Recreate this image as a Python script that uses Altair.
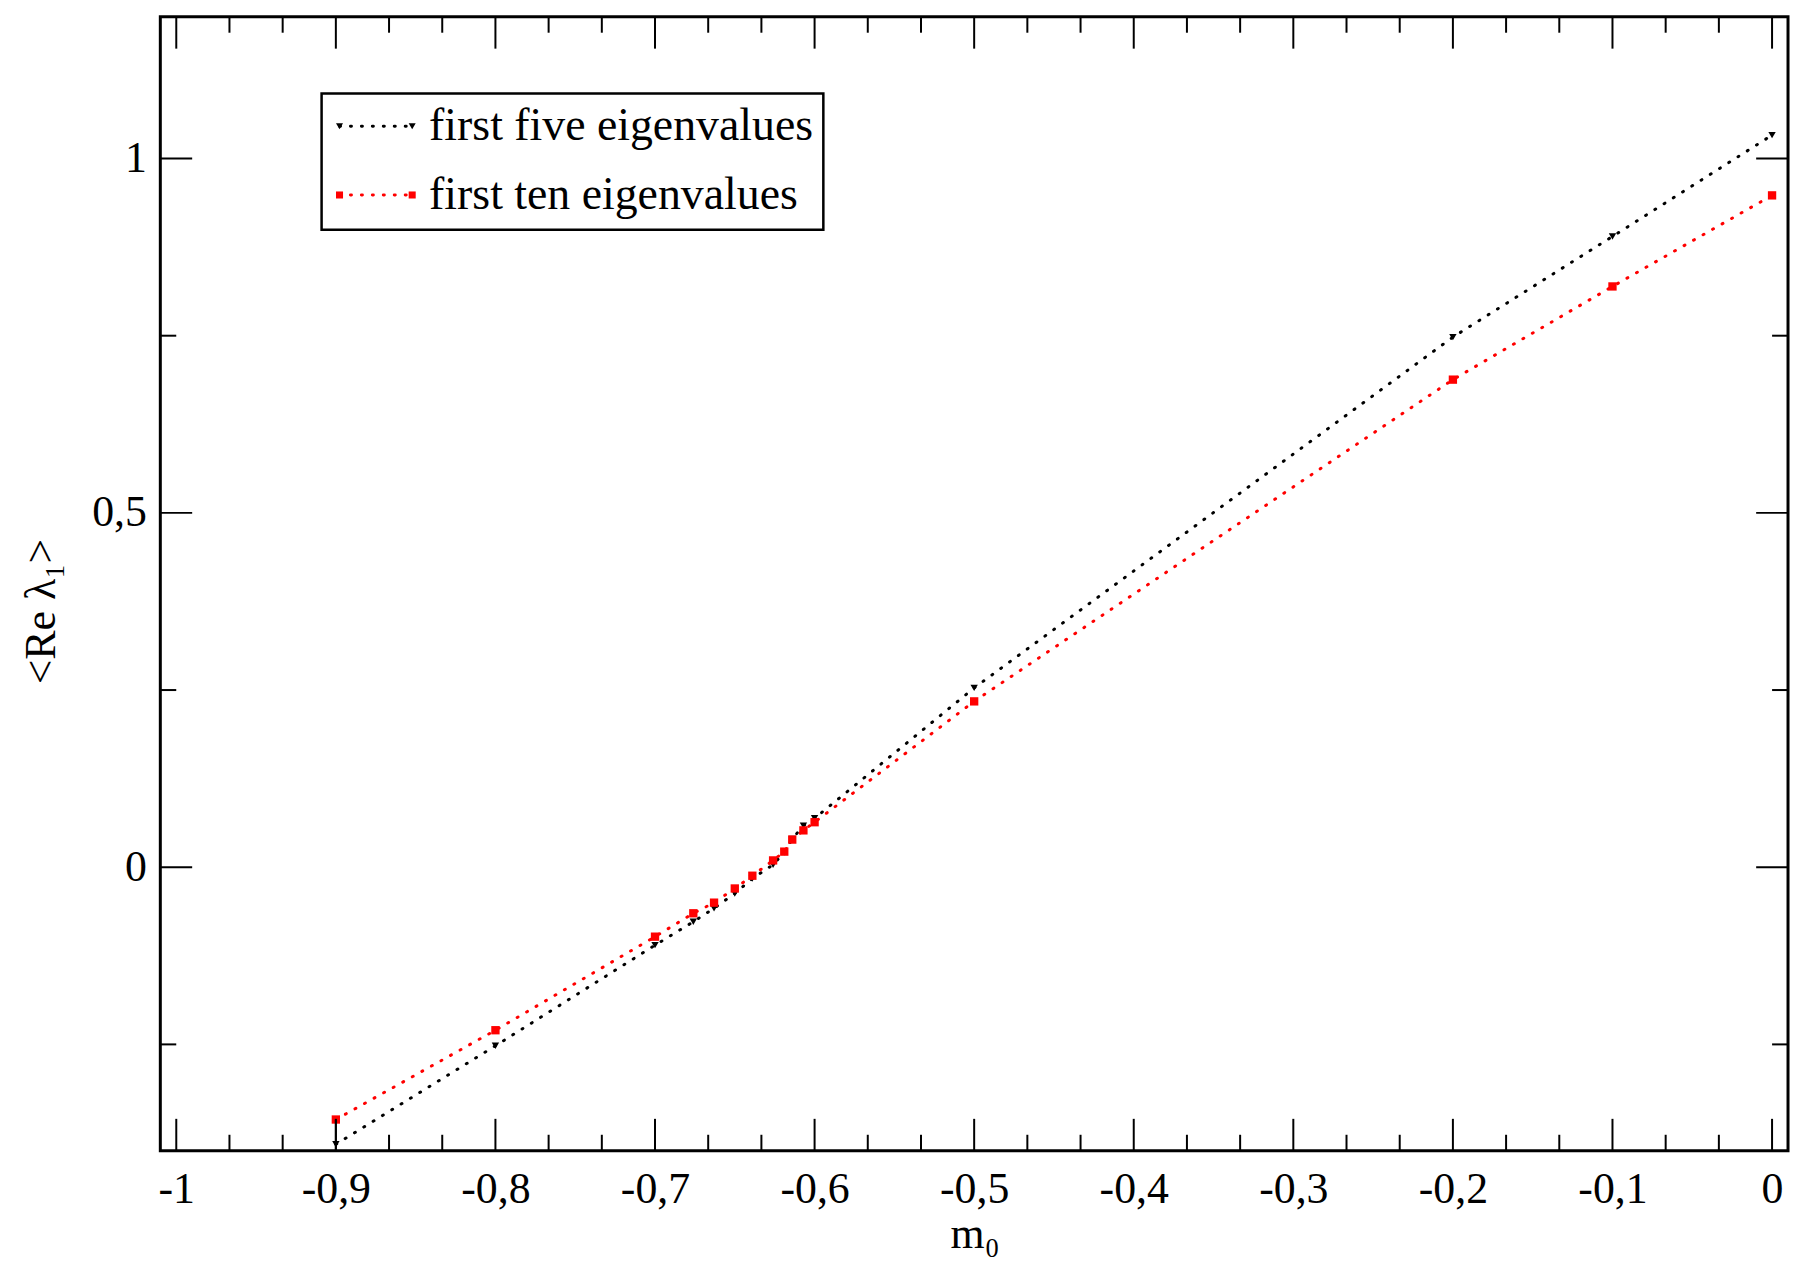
import altair as alt
import pandas as pd

# ---- data ----
m0 = [-0.9, -0.8, -0.7, -0.676, -0.663, -0.65, -0.639, -0.626, -0.619,
      -0.614, -0.607, -0.6, -0.5, -0.2, -0.1, 0.0]
first_five = [-0.391, -0.252, -0.110, -0.077, -0.058, -0.037, -0.016, 0.0035,
              0.021, 0.040, 0.0587, 0.069, 0.253, 0.748, 0.890, 1.033]
first_ten = [-0.356, -0.230, -0.098, -0.065, -0.050, -0.030, -0.012, 0.0096,
             0.022, 0.039, 0.052, 0.0635, 0.234, 0.688, 0.8195, 0.948]
series_names = ["first five eigenvalues", "first ten eigenvalues"]
series_colors = ["#000000", "#ff0000"]
series_shapes = ["triangle-down", "square"]

err_x = [-0.9]
err_lo = [-0.426]
err_hi = [-0.356]

x_major = [-1, -0.9, -0.8, -0.7, -0.6, -0.5, -0.4, -0.3, -0.2, -0.1, 0]
x_minor = [round(-1 + k / 30, 5) for k in range(31) if k % 3 != 0]
y_major = [0, 0.5, 1]
y_minor = [-0.25, 0.25, 0.75]

# ---- layout ----
W, H = 1635, 1139
MAJ, MIN = 32, 16
FONT = "Liberation Serif"

df = pd.concat([
    pd.DataFrame({"m0": m0, "val": first_five, "series": series_names[0]}),
    pd.DataFrame({"m0": m0, "val": first_ten, "series": series_names[1]}),
])

xscale = alt.Scale(domain=[-1.01, 0.01], nice=False, zero=False)
yscale = alt.Scale(domain=[-0.4, 1.2], nice=False, zero=False)
label_expr = "replace(replace(datum.label, '.', ','), '\u2212', '-')"
xaxis = alt.Axis(values=x_major, format="~g", labelExpr=label_expr, ticks=False,
                 domain=False, grid=False, labelFlush=False, labelOverlap=False,
                 labelBaseline="alphabetic", labelPadding=52,
                 title="m\u2080", titleX=818, titleY=97, titleAlign="center",
                 titleBaseline="alphabetic")
yaxis = alt.Axis(values=y_major, format="~g", labelExpr=label_expr, ticks=False,
                 domain=False, grid=False, labelFlush=False, labelOverlap=False,
                 labelPadding=14,
                 title="<Re \u03bb\u2081>", titleX=-106, titleY=597, titleAngle=270,
                 titleAlign="center", titleBaseline="alphabetic")

X = alt.X("m0:Q", scale=xscale, axis=xaxis)
Y = alt.Y("val:Q", scale=yscale, axis=yaxis)
color = alt.Color("series:N", scale=alt.Scale(domain=series_names, range=series_colors), legend=None)
shape = alt.Shape("series:N", scale=alt.Scale(domain=series_names, range=series_shapes), legend=None)
size = alt.Size("series:N", scale=alt.Scale(domain=series_names, range=[55, 70]), legend=None)

lines = alt.Chart(df).mark_line(strokeDash=[1, 10], strokeCap="round", strokeWidth=3).encode(
    x=X, y=Y, color=color, detail="series:N")
points = alt.Chart(df).mark_point(filled=True, opacity=1).encode(
    x=X, y=Y, color=color, shape=shape, size=size)

err = alt.Chart(pd.DataFrame({"m0": err_x, "val": err_lo, "hi": err_hi})).mark_rule(
    color="black", strokeWidth=2, clip=True).encode(x=X, y=Y, y2="hi:Q")

def xticks(vals, length):
    d = pd.DataFrame({"m0": vals})
    b = alt.Chart(d).mark_rule(color="black", strokeWidth=2).encode(
        x=X, y=alt.value(H), y2=alt.value(H - length))
    t = alt.Chart(d).mark_rule(color="black", strokeWidth=2).encode(
        x=X, y=alt.value(0), y2=alt.value(length))
    return [b, t]

def yticks(vals, length):
    d = pd.DataFrame({"val": vals})
    l = alt.Chart(d).mark_rule(color="black", strokeWidth=2).encode(
        y=Y, x=alt.value(0), x2=alt.value(length))
    r = alt.Chart(d).mark_rule(color="black", strokeWidth=2).encode(
        y=Y, x=alt.value(W), x2=alt.value(W - length))
    return [l, r]

ticks = xticks(x_major, MAJ) + xticks(x_minor, MIN) + yticks(y_major, MAJ) + yticks(y_minor, MIN)

# ---- legend (drawn by hand) ----
one = pd.DataFrame({"k": [0]})
legend_layers = [
    alt.Chart(one).mark_rect(fill="white", stroke="black", strokeWidth=2.5).encode(
        x=alt.value(162), x2=alt.value(666), y=alt.value(77), y2=alt.value(214))
]
for i, name in enumerate(series_names):
    yy = 110 + 69 * i
    c = series_colors[i]
    legend_layers.append(alt.Chart(one).mark_rule(
        color=c, strokeDash=[1, 10], strokeCap="round", strokeWidth=3).encode(
        x=alt.value(180), x2=alt.value(253), y=alt.value(yy)))
    for xx in (180, 253):
        legend_layers.append(alt.Chart(one).mark_point(
            color=c, filled=True, opacity=1, size=50, shape=series_shapes[i]).encode(
            x=alt.value(xx), y=alt.value(yy)))
    legend_layers.append(alt.Chart(pd.DataFrame({"label": [name]})).mark_text(
        align="left", baseline="middle", font=FONT, fontSize=46, color="black").encode(
        x=alt.value(270), y=alt.value(yy), text="label:N"))

chart = alt.layer(lines, points, err, *ticks, *legend_layers).properties(
    width=W, height=H,
    autosize=alt.AutoSizeParams(type="none"),
    padding={"left": 153, "top": 6, "right": 3, "bottom": 114},
    background="white",
).configure_view(stroke="black", strokeWidth=3).configure_axis(
    labelFont=FONT, labelFontSize=44, labelColor="black",
    titleFont=FONT, titleFontSize=44, titleFontWeight="normal", titleColor="black",
)

chart.save("out.html", embed_options={"renderer": "svg", "actions": False})
